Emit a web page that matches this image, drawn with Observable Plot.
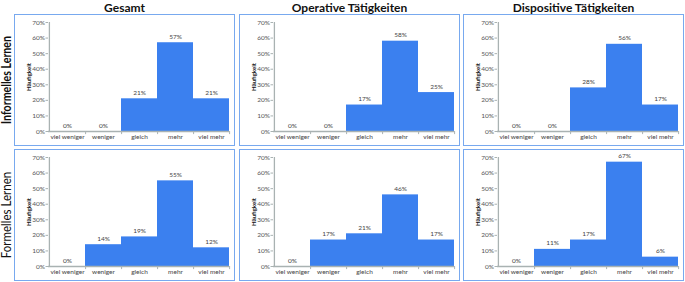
<!DOCTYPE html>
<html><head><meta charset="utf-8">
<script src="https://cdn.jsdelivr.net/npm/d3@7"></script>
<script src="https://cdn.jsdelivr.net/npm/@observablehq/plot@0.6"></script>
<style>
html,body{margin:0;padding:0;background:#fff;}
#root{position:relative;width:685px;height:282px;overflow:hidden;font-family:Lato,sans-serif;}
.box{position:absolute;background:#fff;outline:1.5px solid #78a9ef;outline-offset:-1.5px;}
.box svg{position:absolute;left:0;top:0;}
.title{position:absolute;top:0;height:14px;line-height:14px;font:bold 12px Lato,sans-serif;color:#111;text-align:center;white-space:nowrap;}
.rowlab{position:absolute;height:16px;line-height:16px;font-size:12.5px;color:#111;text-align:center;white-space:nowrap;}
svg [aria-label="y-axis label"] text{font-weight:bold;font-size:6px;fill:#111;}
svg [aria-label="x-axis tick label"] text, svg [aria-label="y-axis tick label"] text{font-weight:normal;}
</style>
</head><body><div id="root"></div>
<script>
const categories = ["viel weniger", "weniger", "gleich", "mehr", "viel mehr"];
const yTicks = [0, 10, 20, 30, 40, 50, 60, 70];
const colTitles = ["Gesamt", "Operative Tätigkeiten", "Dispositive Tätigkeiten"];
const rowLabels = ["Informelles Lernen", "Formelles Lernen"];
const informellGesamt = [0, 0, 21, 57, 21];
const informellOperativ = [0, 0, 17, 58, 25];
const informellDispositiv = [0, 0, 28, 56, 17];
const formellGesamt = [0, 14, 19, 55, 12];
const formellOperativ = [0, 17, 21, 46, 17];
const formellDispositiv = [0, 11, 17, 67, 6];
const panelValues = [
  [informellGesamt, informellOperativ, informellDispositiv],
  [formellGesamt, formellOperativ, formellDispositiv]
];

const root = document.getElementById("root");
const colLeft = [14, 239, 463];
const rowTop = [14, 149];
const W = 221, H = 132;
const mL = 34, mR = 6, mT = 8, mB = 15;
const bw = (W - mL - mR) / categories.length;
const barColor = "#3b80ef";
const axisColor = "#a9b2b2";

colTitles.forEach((t, c) => {
  const d = document.createElement("div");
  d.className = "title";
  d.style.left = colLeft[c] + "px";
  d.style.width = W + "px";
  d.textContent = t;
  root.appendChild(d);
});
rowLabels.forEach((t, r) => {
  const d = document.createElement("div");
  d.className = "rowlab";
  d.style.width = H + "px";
  d.style.left = (7 - H / 2) + "px";
  d.style.top = (rowTop[r] + H / 2 - 8) + "px";
  d.style.fontWeight = r === 0 ? "bold" : "normal";
  d.style.transform = r === 0 ? "rotate(-90deg) scaleX(0.85)" : "rotate(-90deg) scaleX(0.92)";
  d.textContent = t;
  root.appendChild(d);
});

for (let r = 0; r < 2; r++) {
  for (let c = 0; c < 3; c++) {
    const vals = panelValues[r][c];
    const data = categories.map((k, i) => ({cat: k, value: vals[i]}));
    const box = document.createElement("div");
    box.className = "box";
    box.style.left = colLeft[c] + "px";
    box.style.top = rowTop[r] + "px";
    box.style.width = W + "px";
    box.style.height = H + "px";
    const chart = Plot.plot({
      width: W, height: H,
      marginLeft: mL, marginRight: mR, marginTop: mT, marginBottom: mB,
      style: {fontFamily: "Lato, sans-serif", fontSize: "6.5px", color: "#444", background: "transparent", overflow: "visible"},
      x: {domain: categories, padding: 0},
      y: {domain: [0, 70]},
      marks: [
        Plot.barY(data, {x: "cat", y: "value", fill: barColor}),
        Plot.ruleY([0], {stroke: axisColor, strokeWidth: 1.3}),
        Plot.ruleX([categories[0]], {dx: -bw / 2, stroke: axisColor, strokeWidth: 1.3}),
        Plot.ruleX(categories, {dx: bw / 2, y1: 0, y2: -2, stroke: axisColor}),
        Plot.text(data, {x: "cat", y: "value", text: d => d.value + "%", dy: -6, fill: "#444", fontSize: 6.5}),
        Plot.axisY({ticks: yTicks, tickFormat: d => d + "%", tickSize: 2.5, tickPadding: 1, stroke: axisColor, fill: "#555",
          label: "Häufigkeit", labelAnchor: "center", labelArrow: "none", labelOffset: 22}),
        Plot.axisX({tickSize: 0, tickPadding: 3, label: null, fill: "#444"})
      ]
    });
    box.appendChild(chart);
    root.appendChild(box);
  }
}
</script></body></html>
